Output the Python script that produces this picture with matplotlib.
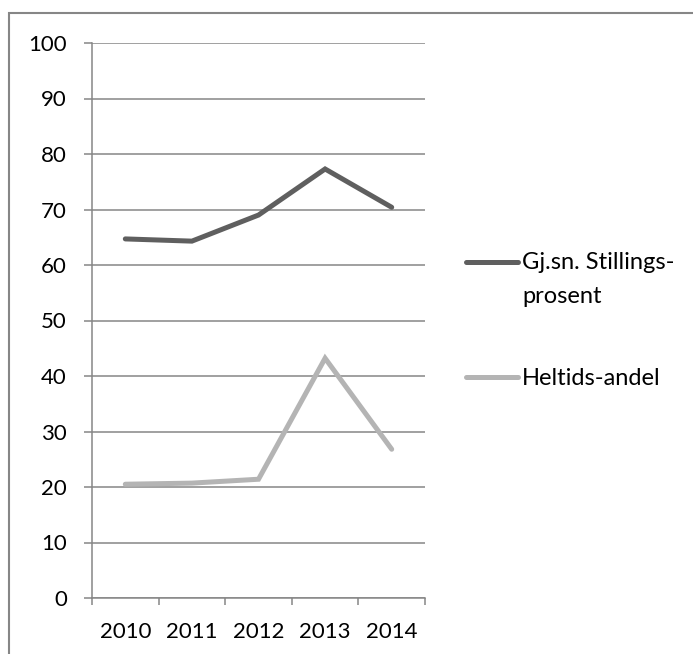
import matplotlib
matplotlib.use("Agg")
import matplotlib.pyplot as plt
from matplotlib.lines import Line2D
from matplotlib.patches import Rectangle

years = ["2010", "2011", "2012", "2013", "2014"]
stillingsprosent = [64.7, 64.3, 69.0, 77.3, 70.4]
heltidsandel = [20.5, 20.7, 21.4, 43.2, 26.8]
series_labels = ["Gj.sn. Stillings-\nprosent", "Heltids-andel"]
colors = ["#5f5f5f", "#b4b4b4"]
yticks = list(range(0, 101, 10))

plt.rcParams['font.family'] = ['Lato', 'DejaVu Sans']

W, H = 693, 654
fig = plt.figure(figsize=(W / 100, H / 100), dpi=100)
ax = fig.add_axes([92 / W, 1 - 598 / H, (425 - 92) / W, (598 - 43) / H])

x = list(range(len(years)))
for vals, c in zip([stillingsprosent, heltidsandel], colors):
    ax.plot(x, vals, color=c, lw=3.6, solid_capstyle='round', solid_joinstyle='miter')

ax.set_xlim(-0.5, len(years) - 0.5)
ax.set_ylim(0, 100)
ax.set_yticks(yticks)
ax.set_yticklabels([str(v) for v in yticks])
ax.yaxis.grid(True, color="#868686", lw=1.1)
ax.set_axisbelow(True)
ax.set_xticks(x)
ax.set_xticklabels(years)
ax.set_xticks([i - 0.5 for i in range(len(years) + 1)], minor=True)
ax.tick_params(axis='x', which='major', length=0, pad=17, labelsize=16)
ax.tick_params(axis='x', which='minor', length=5, width=1.1, color="#868686", direction='out')
ax.tick_params(axis='y', length=6, width=1.1, color="#868686", direction='out', pad=12, labelsize=16)
for s in ['top', 'right']:
    ax.spines[s].set_visible(False)
for s in ['left', 'bottom']:
    ax.spines[s].set_color("#868686")
    ax.spines[s].set_linewidth(1.1)

# legend (text anchored at baseline of its last line)
leg_y = [262, 377]
leg_base = [303, 385]
for lab, c, yy, yb in zip(series_labels, colors, leg_y, leg_base):
    fig.add_artist(Line2D([466 / W, 518 / W], [1 - yy / H, 1 - yy / H], color=c, lw=3.6,
                          solid_capstyle='round', transform=fig.transFigure))
    fig.text(522 / W, 1 - yb / H, lab, ha='left', va='baseline', fontsize=17,
             linespacing=1.75)

# outer border
fig.add_artist(Rectangle((8.5 / W, -0.1), 1.2, 1 - 13 / H + 0.1, transform=fig.transFigure,
                         fill=False, edgecolor="#868686", lw=1.5))

fig.savefig("out.png", dpi=100)
